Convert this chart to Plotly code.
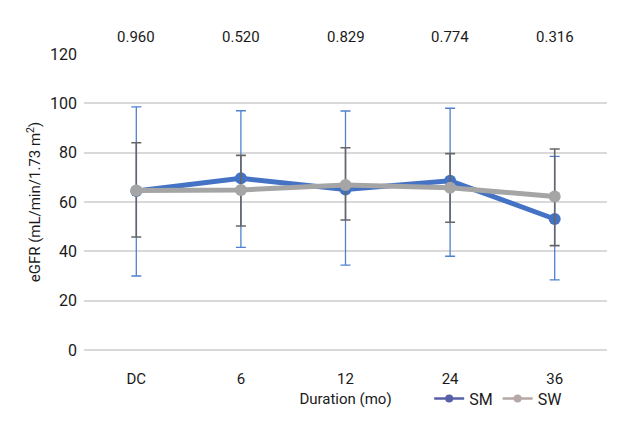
import plotly.graph_objects as go

categories = ["DC", "6", "12", "24", "36"]
p_values = ["0.960", "0.520", "0.829", "0.774", "0.316"]

sm_mean = [64.5, 69.6, 65.1, 68.6, 53.1]
sm_upper = [98.6, 97.0, 96.9, 98.0, 78.5]
sm_lower = [30.0, 41.6, 34.4, 38.0, 28.4]

sw_mean = [64.7, 64.9, 66.9, 65.8, 62.2]
sw_upper = [84.0, 78.9, 82.0, 79.6, 81.5]
sw_lower = [45.8, 50.3, 52.7, 51.8, 42.3]

FONT = "Roboto, sans-serif"

fig = go.Figure()

fig.add_trace(go.Scatter(
    x=categories, y=sm_mean, mode="lines+markers", showlegend=False,
    line=dict(color="#4472C4", width=5), marker=dict(color="#4472C4", size=12),
    error_y=dict(type="data", symmetric=False,
                 array=[u - m for u, m in zip(sm_upper, sm_mean)],
                 arrayminus=[m - l for l, m in zip(sm_lower, sm_mean)],
                 color="#4F81D0", thickness=1.3, width=5),
))
fig.add_trace(go.Scatter(
    x=categories, y=sw_mean, mode="lines+markers", showlegend=False,
    line=dict(color="#A5A5A5", width=5), marker=dict(color="#A5A5A5", size=12),
    error_y=dict(type="data", symmetric=False,
                 array=[u - m for u, m in zip(sw_upper, sw_mean)],
                 arrayminus=[m - l for l, m in zip(sw_lower, sw_mean)],
                 color="#666666", thickness=1.6, width=5),
))
# legend entries
fig.add_trace(go.Scatter(x=[categories[0]], y=[None], mode="lines+markers", name="SM",
                         line=dict(color="#5860A8", width=2.5), marker=dict(color="#5860A8", size=8)))
fig.add_trace(go.Scatter(x=[categories[0]], y=[None], mode="lines+markers", name="SW",
                         line=dict(color="#B5A8A6", width=2.5), marker=dict(color="#B5A8A6", size=8)))

for i, p in enumerate(p_values):
    fig.add_annotation(x=i, y=1.0, xref="x", yref="paper", yshift=17,
                       text=p, showarrow=False, yanchor="middle",
                       font=dict(size=15, color="#1a1a1a", family=FONT))

fig.update_layout(
    width=640, height=440,
    margin=dict(l=76, r=41, t=46, b=98),
    plot_bgcolor="white", paper_bgcolor="white",
    font=dict(family=FONT, size=15, color="#1a1a1a"),
    legend=dict(orientation="h", x=0.66, xanchor="left", y=-0.164, yanchor="middle",
                font=dict(size=16), itemwidth=30, bgcolor="rgba(0,0,0,0)"),
    xaxis=dict(type="category", categoryorder="array", categoryarray=categories,
               range=[-0.5, len(categories) - 0.5],
               showgrid=False, showline=False, ticks="", ticklabelstandoff=18,
               title=dict(text="Duration (mo)", standoff=6, font=dict(size=15)),
               tickfont=dict(size=15)),
    yaxis=dict(range=[0, 120], dtick=20, showgrid=True, gridcolor="#D9D9D9", gridwidth=1.5,
               zeroline=True, zerolinecolor="#D9D9D9", zerolinewidth=1.5, showline=False,
               ticks="", ticklabelstandoff=6,
               title=dict(text="eGFR (mL/min/1.73 m<sup>2</sup>)", standoff=5, font=dict(size=15)),
               tickfont=dict(size=16)),
)

fig.write_html("out.html")
